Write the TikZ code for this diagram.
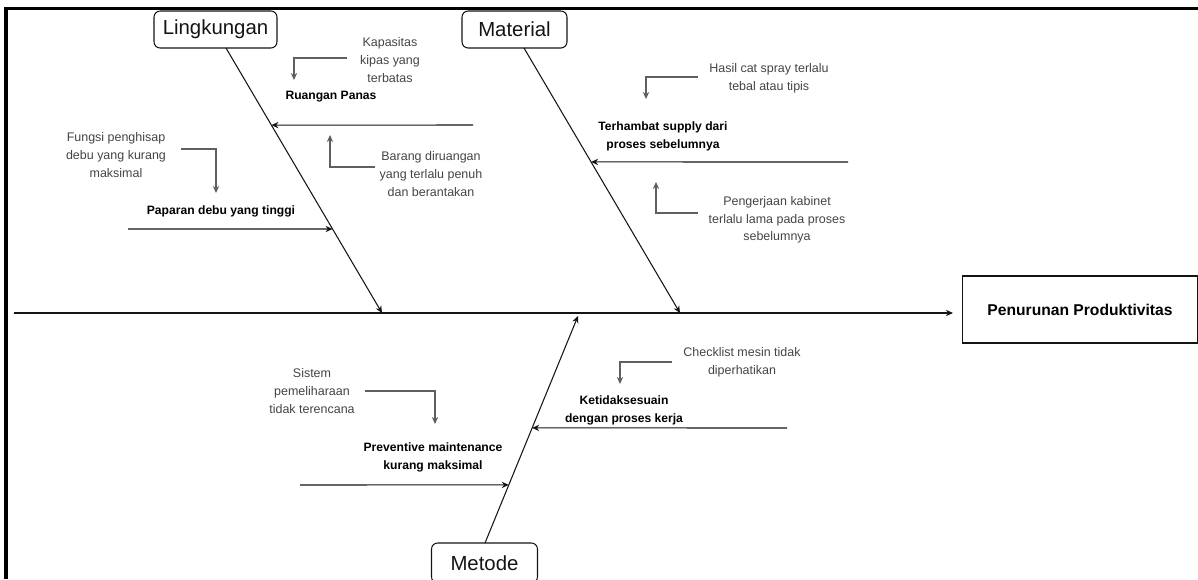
\documentclass[tikz,border=0pt]{standalone}
\usepackage{fontspec}
\setmainfont{Liberation Sans}
\usetikzlibrary{arrows.meta, positioning, calc}
\definecolor{lineDark}{RGB}{20, 20, 20}
\definecolor{causeGray}{RGB}{68, 68, 68}
\definecolor{elbowGray}{RGB}{95, 95, 95}

\begin{document}
\begin{tikzpicture}[
    x=0.02cm, y=-0.02cm,
    category/.style={
        rectangle,
        rounded corners=3.5pt,
        minimum height=0.74cm,
        text centered,
        font=\fontsize{11.6}{14}\selectfont,
        text=lineDark,
        draw=lineDark,
        line width=0.6pt
    },
    effect/.style={
        rectangle,
        minimum width=4.72cm,
        minimum height=1.34cm,
        text centered,
        font=\fontsize{8.9}{11}\selectfont\bfseries,
        draw=lineDark,
        line width=0.6pt
    },
    problem/.style={
        align=center,
        inner sep=0pt,
        font=\fontsize{6.9}{10.2}\selectfont\bfseries
    },
    cause/.style={
        align=center,
        inner sep=0pt,
        text=causeGray,
        font=\fontsize{7.1}{10}\selectfont
    },
    bone/.style={
        -{Stealth[length=4pt, width=3.6pt]},
        line width=0.6pt,
        color=lineDark
    },
    elbow/.style={
        -{Stealth[length=4pt, width=3.6pt]},
        line width=0.6pt,
        color=elbowGray
    }
]
\useasboundingbox (0,0) rectangle (1198,579);

% Frame
\draw[line width=1.8pt] (6,579) -- (6,8.5) -- (1198,8.5);

% Spine and effect
\node[effect] (effect) at (1080,309.5) {Penurunan Produktivitas};
\coordinate (spineStart) at (14,313);
\coordinate (spineEnd) at (953,313);
\draw[bone] (spineStart) -- (spineEnd);

% Lingkungan
\node[category, minimum width=2.46cm] (lk) at (215.5,29.5) {Lingkungan};
\coordinate (lkTop) at (226,48);
\coordinate (lkEnd) at (382,313);
\draw[bone] (lkTop) -- (lkEnd);

\node[problem] (panas) at (331,97) {Ruangan Panas};
\coordinate (panasStart) at (473,125);
\coordinate (panasHit) at ($(lkTop)!0.291!(lkEnd)$);
\draw[bone] (panasStart) -- (panasHit);

\node[cause] (kipas) at (390,60) {Kapasitas\\kipas yang\\terbatas};
\coordinate (kipasFrom) at (347,58);
\coordinate (kipasTo) at (294,80);
\draw[elbow] (kipasFrom) -| (kipasTo);

\node[cause] (barang) at (431,174) {Barang diruangan\\yang terlalu penuh\\dan berantakan};
\coordinate (barangFrom) at (375,167);
\coordinate (barangTo) at (330,135);
\draw[elbow] (barangFrom) -| (barangTo);

\node[problem] (debu) at (221,211) {Paparan debu yang tinggi};
\coordinate (debuStart) at (128,229);
\coordinate (debuHit) at ($(lkTop)!0.683!(lkEnd)$);
\draw[bone] (debuStart) -- (debuHit);

\node[cause] (hisap) at (116,155) {Fungsi penghisap\\debu yang kurang\\maksimal};
\coordinate (hisapFrom) at (181,149);
\coordinate (hisapTo) at (216,193);
\draw[elbow] (hisapFrom) -| (hisapTo);

% Material
\node[category, minimum width=2.1cm] (mt) at (514.5,29.5) {Material};
\coordinate (mtTop) at (524,48);
\coordinate (mtEnd) at (680,313);
\draw[bone] (mtTop) -- (mtEnd);

\node[problem] (supply) at (663,136) {Terhambat supply dari\\proses sebelumnya};
\coordinate (supplyStart) at (848,162);
\coordinate (supplyHit) at ($(mtTop)!0.430!(mtEnd)$);
\draw[bone] (supplyStart) -- (supplyHit);

\node[cause] (spray) at (769,78.5) {Hasil cat spray terlalu\\tebal atau tipis};
\coordinate (sprayFrom) at (698,77);
\coordinate (sprayTo) at (646,99);
\draw[elbow] (sprayFrom) -| (sprayTo);

\node[cause] (kabinet) at (777,220) {Pengerjaan kabinet\\terlalu lama pada proses\\sebelumnya};
\coordinate (kabinetFrom) at (698,213);
\coordinate (kabinetTo) at (656,182);
\draw[elbow] (kabinetFrom) -| (kabinetTo);

% Metode
\node[category, minimum width=2.12cm, minimum height=0.8cm] (md) at (484.5,563) {Metode};
\coordinate (mdBottom) at (485,543);
\coordinate (mdEnd) at (578,316);
\draw[bone] (mdBottom) -- (mdEnd);

\node[problem] (sesuai) at (624,410.5) {Ketidaksesuain\\dengan proses kerja};
\coordinate (sesuaiStart) at (787,428);
\coordinate (sesuaiHit) at ($(mdBottom)!0.507!(mdEnd)$);
\draw[bone] (sesuaiStart) -- (sesuaiHit);

\node[cause] (checklist) at (742,362.5) {Checklist mesin tidak\\diperhatikan};
\coordinate (checklistFrom) at (672,362);
\coordinate (checklistTo) at (620,384);
\draw[elbow] (checklistFrom) -| (checklistTo);

\node[problem] (preventive) at (433,457.5) {Preventive maintenance\\kurang maksimal};
\coordinate (preventiveStart) at (300,485);
\coordinate (preventiveHit) at ($(mdBottom)!0.256!(mdEnd)$);
\draw[bone] (preventiveStart) -- (preventiveHit);

\node[cause] (sistem) at (312,391) {Sistem\\pemeliharaan\\tidak terencana};
\coordinate (sistemFrom) at (365,391);
\coordinate (sistemTo) at (435,424);
\draw[elbow] (sistemFrom) -| (sistemTo);

\end{tikzpicture}
\end{document}
